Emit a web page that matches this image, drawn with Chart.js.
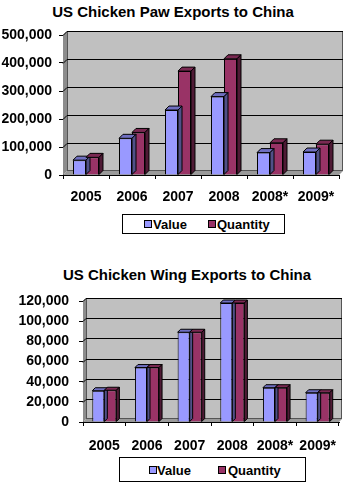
<!DOCTYPE html>
<html lang="en">
<head>
    <meta charset="UTF-8" />
    <title>US Chicken Exports to China</title>
    <style>
        body { margin: 0; background: #fff; font-family: Arial, "Liberation Sans", sans-serif; }
        #page { position: relative; width: 350px; height: 485px; }
        .title { position: absolute; left: 0; width: 350px; text-align: center; font-weight: bold; font-size: 15px; line-height: 18px; color: #000; }
        .box { position: absolute; }
        .legend { position: absolute; border: 1px solid #000; background: #fff; box-sizing: border-box; font-weight: bold; font-size: 13px; color: #000; }
        .legend span { position: absolute; top: 50%; transform: translateY(-50%); white-space: nowrap; }
        .legend i { position: absolute; top: 50%; width: 6px; height: 6px; margin-top: -4px; border: 1px solid #000; }
    </style>
</head>
<body>
<div id="page">
    <div class="title" style="top: 3px; left: -2px;">US Chicken Paw Exports to China</div>
    <div class="box" style="left: 0; top: 0;"><canvas id="pawChart" width="350" height="210"></canvas></div>
    <div class="legend" style="left: 122px; top: 214px; width: 163px; height: 20px;">
        <i style="left: 21px; background: #9999ff;"></i><span style="left: 30px;">Value</span>
        <i style="left: 85px; background: #993366;"></i><span style="left: 94px;">Quantity</span>
    </div>

    <div class="title" style="top: 266px; left: 12px;">US Chicken Wing Exports to China</div>
    <div class="box" style="left: 0; top: 250px;"><canvas id="wingChart" width="350" height="210"></canvas></div>
    <div class="legend" style="left: 119px; top: 457px; width: 187px; height: 25px;">
        <i style="left: 29px; background: #9999ff;"></i><span style="left: 37px;">Value</span>
        <i style="left: 98px; background: #993366;"></i><span style="left: 108px;">Quantity</span>
    </div>
</div>

<script src="https://cdn.jsdelivr.net/npm/chart.js@4.4.1/dist/chart.umd.min.js"></script>
<script>
    const years = ['2005', '2006', '2007', '2008', '2008*', '2009*'];

    // paw exports
    const pawValue = [53000, 131000, 232000, 280000, 80000, 82000];
    const pawQuantity = [63000, 152000, 371000, 415000, 115000, 110000];
    const pawTicks = [0, 100000, 200000, 300000, 400000, 500000];

    // wing exports
    const wingValue = [31000, 54000, 89000, 118000, 34000, 29000];
    const wingQuantity = [31500, 54000, 89000, 118000, 34000, 29000];
    const wingTicks = [0, 20000, 40000, 60000, 80000, 100000, 120000];

    const valueColors = { front: '#9999ff', top: '#6f6fc0', side: '#505088' };
    const quantityColors = { front: '#993366', top: '#7a2952', side: '#4f1a35' };

    // back wall, side wall and floor of the 3d plot
    const wallPlugin = {
        id: 'wall3d',
        beforeDatasetsDraw(chart) {
            const ctx = chart.ctx;
            const a = chart.chartArea;
            const d = chart.options.depth;
            const y = chart.scales.y;
            ctx.save();
            ctx.lineWidth = 1;
            // side wall
            ctx.fillStyle = '#8c8c8c';
            ctx.beginPath();
            ctx.moveTo(a.left, a.top);
            ctx.lineTo(a.left + d, a.top - d);
            ctx.lineTo(a.left + d, a.bottom - d);
            ctx.lineTo(a.left, a.bottom);
            ctx.closePath();
            ctx.fill();
            // floor
            ctx.fillStyle = '#9a9a9a';
            ctx.beginPath();
            ctx.moveTo(a.left, a.bottom);
            ctx.lineTo(a.left + d, a.bottom - d);
            ctx.lineTo(a.right + d, a.bottom - d);
            ctx.lineTo(a.right, a.bottom);
            ctx.closePath();
            ctx.fill();
            // back wall
            ctx.fillStyle = '#c0c0c0';
            ctx.fillRect(a.left + d, a.top - d, a.right - a.left, a.bottom - a.top);
            ctx.strokeStyle = '#555';
            ctx.strokeRect(a.left + d + 0.5, a.top - d + 0.5, a.right - a.left - 1, a.bottom - a.top - 1);
            // gridlines on the walls
            ctx.strokeStyle = '#000';
            y.ticks.forEach(t => {
                if (t.value === 0) return;
                const py = Math.round(y.getPixelForValue(t.value)) + 0.5;
                ctx.beginPath();
                ctx.moveTo(a.left, py);
                ctx.lineTo(a.left + d, py - d);
                ctx.lineTo(a.right + d, py - d);
                ctx.stroke();
            });
            ctx.restore();
        },
        afterDatasetsDraw(chart) {
            // top and side faces of each bar
            const ctx = chart.ctx;
            const d = chart.options.depth;
            ctx.save();
            ctx.lineWidth = 1;
            ctx.strokeStyle = '#000';
            chart.data.datasets.forEach((ds, i) => {
                const c = ds.faces;
                chart.getDatasetMeta(i).data.forEach(bar => {
                    const l = bar.x - bar.width / 2;
                    const r = bar.x + bar.width / 2;
                    ctx.fillStyle = c.top;
                    ctx.beginPath();
                    ctx.moveTo(l, bar.y);
                    ctx.lineTo(l + d, bar.y - d);
                    ctx.lineTo(r + d, bar.y - d);
                    ctx.lineTo(r, bar.y);
                    ctx.closePath();
                    ctx.fill();
                    ctx.stroke();
                    ctx.fillStyle = c.side;
                    ctx.beginPath();
                    ctx.moveTo(r, bar.y);
                    ctx.lineTo(r + d, bar.y - d);
                    ctx.lineTo(r + d, bar.base - d);
                    ctx.lineTo(r, bar.base);
                    ctx.closePath();
                    ctx.fill();
                    ctx.stroke();
                });
            });
            ctx.restore();
        }
    };

    function makeChart(id, value, quantity, ticks, o) {
        const ctx = document.getElementById(id).getContext('2d');
        return new Chart(ctx, {
            type: 'bar',
            data: {
                labels: years,
                datasets: [
                    { label: 'Value', data: value, backgroundColor: valueColors.front, borderColor: '#000', borderWidth: 1, faces: valueColors },
                    { label: 'Quantity', data: quantity, backgroundColor: quantityColors.front, borderColor: '#000', borderWidth: 1, faces: quantityColors }
                ]
            },
            options: {
                responsive: false,
                animation: false,
                depth: o.depth,
                layout: { padding: { top: o.top, right: 11, left: 0, bottom: 0 } },
                datasets: { bar: { barPercentage: 1, categoryPercentage: 0.565 } },
                plugins: { legend: { display: false }, title: { display: false }, tooltip: { enabled: false } },
                scales: {
                    x: {
                        grid: { drawOnChartArea: false, tickLength: 4, color: '#000', offset: true },
                        border: { display: true, color: '#000' },
                        ticks: { color: '#000', padding: o.xPad, maxRotation: 0, font: { family: 'Arial', weight: 'bold', size: 14 } },
                        afterFit: s => { s.height = o.xHeight; }
                    },
                    y: {
                        min: 0,
                        max: ticks[ticks.length - 1],
                        afterBuildTicks: s => { s.ticks = ticks.map(v => ({ value: v })); },
                        grid: { drawOnChartArea: false, tickLength: 4, color: '#000' },
                        border: { display: true, color: '#000' },
                        ticks: {
                            color: '#000',
                            padding: o.yPad,
                            font: { family: 'Arial', weight: 'bold', size: 14 },
                            callback: v => v.toLocaleString('en-US')
                        },
                        afterFit: s => { s.width = o.yWidth; }
                    }
                }
            },
            plugins: [wallPlugin]
        });
    }

    makeChart('pawChart', pawValue, pawQuantity, pawTicks, { depth: 4, top: 35, xHeight: 35, yWidth: 63, xPad: 10, yPad: 7 });
    makeChart('wingChart', wingValue, wingQuantity, wingTicks, { depth: 3, top: 51, xHeight: 38, yWidth: 83, xPad: 12, yPad: 10 });
</script>
</body>
</html>
